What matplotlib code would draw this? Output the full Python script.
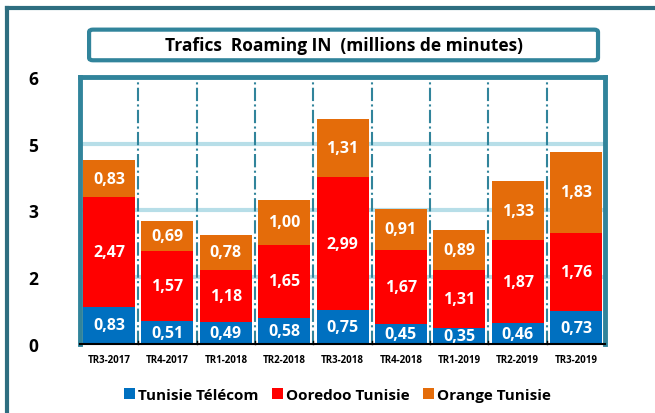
import matplotlib
matplotlib.use("Agg")
import matplotlib.pyplot as plt
from matplotlib.patches import FancyBboxPatch
from matplotlib.lines import Line2D
from matplotlib.ticker import FuncFormatter
import numpy as np

# data
quarters = ['TR3-2017', 'TR4-2017', 'TR1-2018', 'TR2-2018', 'TR3-2018',
            'TR4-2018', 'TR1-2019', 'TR2-2019', 'TR3-2019']
tunisie_telecom = [0.83, 0.51, 0.49, 0.58, 0.75, 0.45, 0.35, 0.46, 0.73]
ooredoo = [2.47, 1.57, 1.18, 1.65, 2.99, 1.67, 1.31, 1.87, 1.76]
orange = [0.83, 0.69, 0.78, 1.00, 1.31, 0.91, 0.89, 1.33, 1.83]
series_names = ['Tunisie Télécom', 'Ooredoo Tunisie', 'Orange Tunisie']
colors = ['#0070C0', '#FF0000', '#E46C0A']

teal = '#31849B'
plt.rcParams['font.family'] = ['Open Sans', 'DejaVu Sans']

fig = plt.figure(figsize=(6.55, 4.14), dpi=100)
ax = fig.add_axes([0.122, 0.167, 0.802, 0.645])

x = np.arange(len(quarters))
bottom = np.zeros(len(quarters))
for vals, col, name in zip([tunisie_telecom, ooredoo, orange], colors, series_names):
    vals = np.array(vals)
    ax.bar(x, vals, 0.89, bottom=bottom, color=col, label=name, zorder=3)
    for xi, b, v in zip(x, bottom, vals):
        ax.text(xi, b + v / 2, f'{v:.2f}'.replace('.', ','), ha='center', va='center',
                color='white', fontsize=11.5, fontweight='bold', zorder=4, clip_on=True)
    bottom = bottom + vals

ax.set_xlim(-0.5, len(quarters) - 0.5)
ax.set_ylim(0, 6)
ax.set_yticks([0, 1.5, 3, 4.5, 6])
ax.yaxis.set_major_formatter(FuncFormatter(lambda v, p: str(int(v + 0.5))))
ax.tick_params(axis='y', length=0, pad=30, labelsize=12.5)
for lbl in ax.get_yticklabels():
    lbl.set_fontweight('bold')
ax.set_xticks(x)
ax.set_xticklabels(quarters, fontsize=7, fontweight='bold')
ax.tick_params(axis='x', length=0, pad=7)

for g in [1.5, 3, 4.5]:
    ax.axhline(g, color='#B7DEE8', lw=3, zorder=1)
for b in np.arange(0.5, len(quarters) - 0.5, 1):
    ax.axvline(b, color=teal, lw=1.5, ls='-.', zorder=2)
    ax.plot([b, b], [0, 0.06], color='black', lw=1, zorder=5, clip_on=False)

for s in ['left', 'top', 'right']:
    ax.spines[s].set_color(teal)
    ax.spines[s].set_linewidth(3.5)
ax.spines['bottom'].set_color('black')
ax.spines['bottom'].set_linewidth(1.5)
ax.spines['bottom'].set_zorder(6)

# title box
box = FancyBboxPatch((0.136, 0.852), 0.777, 0.074, boxstyle='round,pad=0,rounding_size=0.006',
                     transform=fig.transFigure, facecolor='white', edgecolor=teal, lw=3)
fig.patches.append(box)
fig.text(0.525, 0.889, 'Trafics  Roaming IN  (millions de minutes)', ha='center', va='center',
         fontsize=12.5, fontweight='bold')

# outer frame (left and top visible)
fig.add_artist(Line2D([0.010, 0.010], [0, 0.978], transform=fig.transFigure, color='#2E6E80', lw=3))
fig.add_artist(Line2D([0.010, 1.0], [0.978, 0.978], transform=fig.transFigure, color='#2E6E80', lw=3))

leg = fig.legend(loc='center', bbox_to_anchor=(0.515, 0.044), ncol=3, frameon=False,
                 handlelength=0.7, handleheight=0.7, handletextpad=0.2, columnspacing=0.9,
                 prop={'size': 11, 'weight': 'bold'})

fig.savefig('out.png', dpi=100)
